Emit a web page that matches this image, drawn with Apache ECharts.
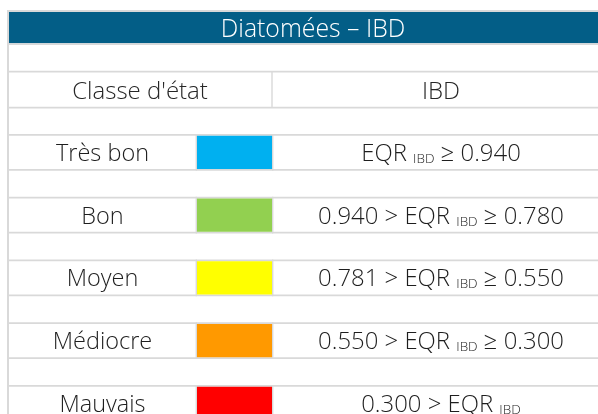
<!DOCTYPE html>
<html><head><meta charset="utf-8">
<script src="https://cdn.jsdelivr.net/npm/echarts@6/dist/echarts.min.js"></script>
<style>html,body{margin:0;padding:0;background:#fff}#c{width:598px;height:414px}</style>
</head><body><div id="c"></div>
<script>
// ---- data ----
const tableTitle = 'Diatomées – IBD';
const headerLabels = ["Classe d'état", 'IBD'];
const classes = ['Très bon', 'Bon', 'Moyen', 'Médiocre', 'Mauvais'];
const classColors = ['#00B0F0', '#92D050', '#FFFF00', '#FF9900', '#FF0000'];
const upperBounds = [null, '0.940', '0.781', '0.550', '0.300'];
const lowerBounds = ['0.940', '0.780', '0.550', '0.300', null];
const indexName = 'IBD';

// ---- layout / style ----
const FONT = '"Open Sans", "Noto Sans", sans-serif';
const FS_LABEL = 23.5, FS_HEAD = 24, FS_RANGE = 23.9, SUB_FS = 13.5, FS_TITLE = 24.8;
const GRAY = '#D9D9D9', BLUE = '#035E87', TXT = '#1e1e1e';
const TW = 602;               // full table width in px (extends past the page)
const VIS_W = 590;            // visible grid width in px
const COLS = [0, 189, 264, TW];
const LINE = 1.7, ROWH = 35;
const BAND_TOP = 134, BAND_H = 62.75;
const VIS_H = 414 - BAND_TOP;

const chart = echarts.init(document.getElementById('c'), null, {renderer: 'canvas'});

function rangeText(i) {
  let s = '';
  if (upperBounds[i]) s += '{m|' + upperBounds[i] + ' > EQR }';
  else s += '{m|EQR }';
  s += '{s|' + indexName + '}';
  if (lowerBounds[i]) s += '{m| ≥ ' + lowerBounds[i] + '}';
  return s;
}

const richStyle = {
  m: {fontSize: FS_RANGE, fontFamily: FONT, fontWeight: 300, fill: TXT, color: TXT},
  s: {fontSize: SUB_FS, fontFamily: FONT, fontWeight: 300, fill: TXT, color: TXT, verticalAlign: 'bottom'}
};

function renderItem(params, api) {
  const i = api.value(1);
  const c = api.coord([0, i]);
  const bh = api.size([0, 1])[1];
  const top = c[1] - bh / 2;
  const xs = COLS.map(v => api.coord([v, i])[0]);
  const cy = top + LINE + (ROWH - LINE) / 2 + 1.8;
  return {
    type: 'group',
    children: [
      {type: 'rect', shape: {x: xs[0] - 1, y: top, width: xs[3] - xs[0] + 1, height: LINE}, style: {fill: GRAY}},
      {type: 'rect', shape: {x: xs[0] - 1, y: top + ROWH, width: xs[3] - xs[0] + 1, height: LINE}, style: {fill: GRAY}},
      {type: 'rect', shape: {x: xs[1], y: top + LINE, width: xs[2] - xs[1], height: ROWH - LINE}, style: {fill: classColors[i]}},
      {type: 'rect', shape: {x: xs[1] - 1.4, y: top, width: 1.4, height: ROWH + LINE}, style: {fill: GRAY}},
      {type: 'rect', shape: {x: xs[2], y: top, width: 1.4, height: ROWH + LINE}, style: {fill: GRAY}},
      {type: 'text', x: (xs[0] + xs[1]) / 2, y: cy, style: {text: classes[i], font: '300 ' + FS_LABEL + 'px ' + FONT, fill: TXT, align: 'center', verticalAlign: 'middle', textAlign: 'center', textVerticalAlign: 'middle'}},
      {type: 'text', x: (xs[2] + xs[3]) / 2, y: cy, style: {text: rangeText(i), rich: richStyle, font: '300 ' + FS_RANGE + 'px ' + FONT, fill: TXT, align: 'center', verticalAlign: 'middle', textAlign: 'center', textVerticalAlign: 'middle'}}
    ]
  };
}

function txt(x, y, text, color, size) {
  return {type: 'text', x: x, y: y, silent: true,
    style: {text: text, font: '300 ' + size + 'px ' + FONT, fill: color, align: 'center', verticalAlign: 'middle', textAlign: 'center', textVerticalAlign: 'middle'}};
}
function box(x, y, w, h, color) {
  return {type: 'rect', silent: true, shape: {x: x, y: y, width: w, height: h}, style: {fill: color}};
}

const option = {
  animation: false,
  grid: {left: 8, top: BAND_TOP, right: 0, bottom: 0},
  xAxis: {type: 'value', min: 0, max: VIS_W, show: false},
  yAxis: {type: 'value', inverse: true, min: -0.5, max: -0.5 + VIS_H / BAND_H, show: false},
  graphic: [
    box(7, 10, 2, 410, GRAY),
    box(7, 10, TW + 2, 2, GRAY),
    box(9, 12, TW, 31.3, BLUE),
    box(7, 43.3, TW + 2, LINE, GRAY),
    box(7, 70.7, TW + 2, LINE, GRAY),
    box(271.3, 72, 1.4, 35, GRAY),
    box(7, 106.7, TW + 2, LINE, GRAY),
    txt(313, 29.5, tableTitle, '#FFFFFF', FS_TITLE),
    txt(140, 92, headerLabels[0], '#262626', FS_HEAD),
    txt(441, 92, headerLabels[1], '#262626', FS_HEAD)
  ],
  series: [{
    type: 'custom',
    clip: false,
    renderItem: renderItem,
    encode: {x: 0, y: 1},
    data: classes.map((c, i) => [0, i])
  }]
};
chart.setOption(option);
</script></body></html>
